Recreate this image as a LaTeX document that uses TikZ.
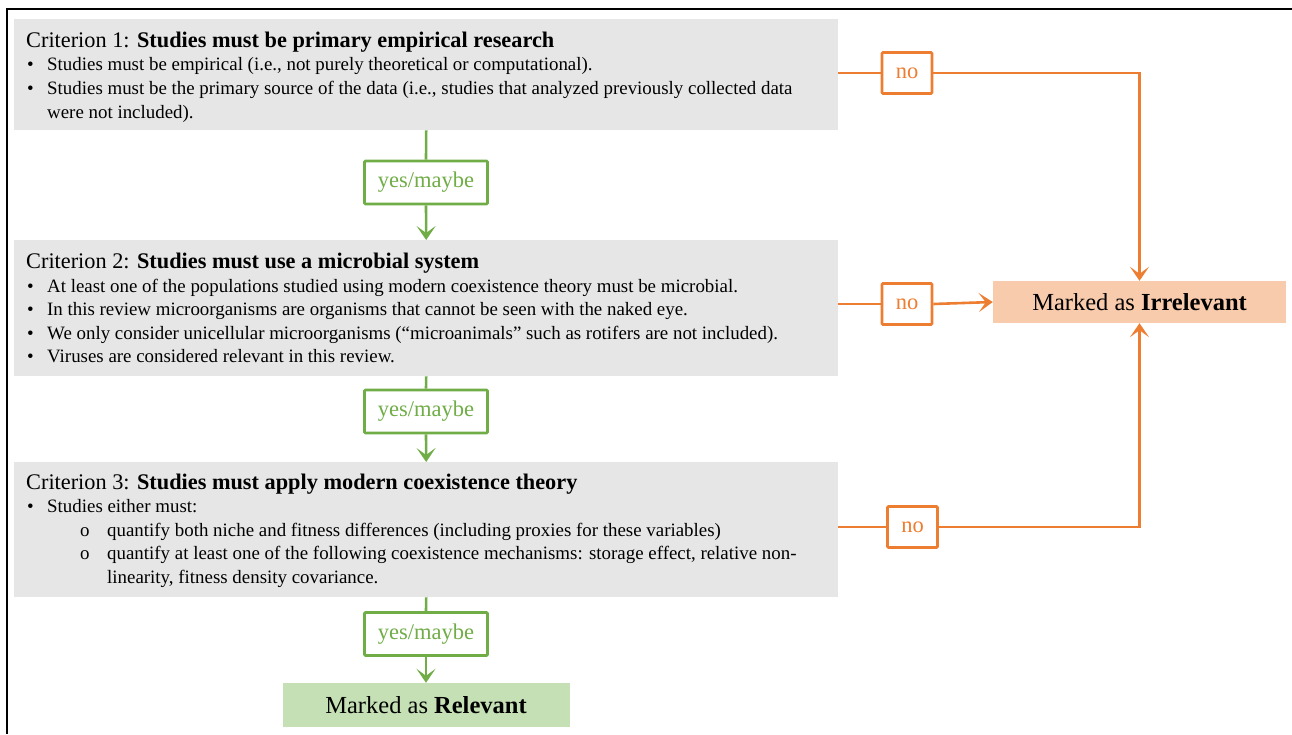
\documentclass[tikz,border=0pt]{standalone}
\usepackage{fontspec}
\setmainfont{Liberation Serif}
\usetikzlibrary{arrows.meta}
\definecolor{boxgray}{HTML}{E6E6E6}
\definecolor{orn}{HTML}{ED7D31}
\definecolor{grn}{HTML}{70AD47}
\definecolor{irrfill}{HTML}{F8CBAD}
\definecolor{relfill}{HTML}{C5E0B4}
\tikzset{
  critbox/.style={fill=boxgray, draw=none, inner sep=0, anchor=north west, minimum width=824pt},
  ttl/.style={anchor=base west, inner sep=0, font=\fontsize{22.3}{26}\selectfont},
  bodytxt/.style={anchor=base west, inner sep=0, font=\fontsize{18.9}{22}\selectfont},
  lab/.style={draw, line width=2.6pt, fill=white, rounded corners=1pt, inner sep=0, font=\fontsize{22.5}{26}\selectfont},
  yesbox/.style={lab, draw=grn, text=grn, minimum width=123pt, minimum height=43pt},
  nobox/.style={lab, draw=orn, text=orn, minimum width=50pt, minimum height=41pt},
  gline/.style={draw=grn, line width=2.6pt},
  garrow/.style={gline, -{Stealth[length=14pt,width=19pt,inset=7pt]}},
  oline/.style={draw=orn, line width=2.6pt},
  oarrow/.style={oline, -{Stealth[length=14pt,width=19pt,inset=7pt]}},
  endbox/.style={draw=none, inner sep=0, font=\fontsize{24.5}{28}\selectfont}
}
\begin{document}
\begin{tikzpicture}[x=1pt,y=-1pt]
\useasboundingbox (0,0) rectangle (1292,734);
% frame
\coordinate (fbl) at (7,734);
\coordinate (ftl) at (7,9);
\coordinate (ftr) at (1292,9);
\draw[line width=1.5pt] (fbl) -- (ftl) -- (ftr);

% criterion boxes
\node[critbox, minimum height=111pt] (c1) at (14,19) {};
\node[critbox, minimum height=136pt] (c2) at (14,240) {};
\node[critbox, minimum height=135pt] (c3) at (14,462) {};

% criterion 1 text
\node[ttl] (c1t) at (26,47) {Criterion 1: \textbf{Studies must be primary empirical research}};
\node[bodytxt] (c1b1) at (27,70.5) {•};
\node[bodytxt] (c1l1) at (47,70.5) {Studies must be empirical (i.e., not purely theoretical or computational).};
\node[bodytxt] (c1b2) at (27,94.5) {•};
\node[bodytxt] (c1l2) at (47,94.5) {Studies must be the primary source of the data (i.e., studies that analyzed previously collected data};
\node[bodytxt] (c1l3) at (47,118.5) {were not included).};

% criterion 2 text
\node[ttl] (c2t) at (26,268) {Criterion 2: \textbf{Studies must use a microbial system}};
\node[bodytxt] (c2b1) at (27,292) {•};
\node[bodytxt] (c2l1) at (47,292) {At least one of the populations studied using modern coexistence theory must be microbial.};
\node[bodytxt] (c2b2) at (27,315.5) {•};
\node[bodytxt] (c2l2) at (47,315.5) {In this review microorganisms are organisms that cannot be seen with the naked eye.};
\node[bodytxt] (c2b3) at (27,339) {•};
\node[bodytxt] (c2l3) at (47,339) {We only consider unicellular microorganisms (“microanimals” such as rotifers are not included).};
\node[bodytxt] (c2b4) at (27,362.5) {•};
\node[bodytxt] (c2l4) at (47,362.5) {Viruses are considered relevant in this review.};

% criterion 3 text
\node[ttl] (c3t) at (26,489) {Criterion 3: \textbf{Studies must apply modern coexistence theory}};
\node[bodytxt] (c3b1) at (27,512.5) {•};
\node[bodytxt] (c3l1) at (47,512.5) {Studies either must:};
\node[bodytxt] (c3o1) at (80,536) {o};
\node[bodytxt] (c3l2) at (107,536) {quantify both niche and fitness differences (including proxies for these variables)};
\node[bodytxt] (c3o2) at (80,559.5) {o};
\node[bodytxt] (c3l3) at (107,559.5) {quantify at least one of the following coexistence mechanisms: storage effect, relative non-};
\node[bodytxt] (c3l4) at (107,583) {linearity, fitness density covariance.};

% end boxes
\node[endbox, fill=irrfill, minimum width=293pt, minimum height=42pt] (irr) at (1139.5,302) {Marked as \textbf{Irrelevant}};
\node[endbox, fill=relfill, minimum width=287pt, minimum height=44pt] (rel) at (426,705) {Marked as \textbf{Relevant}};

% yes/maybe labels
\node[yesbox] (y1) at (426,182.5) {yes/maybe};
\node[yesbox] (y2) at (426,411.5) {yes/maybe};
\node[yesbox] (y3) at (426,634) {yes/maybe};

% no labels
\node[nobox] (n1) at (907,73) {no};
\node[nobox] (n2) at (907,304) {no};
\node[nobox] (n3) at (912.5,527) {no};

% green connectors
\draw[gline] (c1.south) -- (y1.north);
\draw[garrow] (y1.south) -- (c2.north);
\draw[gline] (c2.south) -- (y2.north);
\draw[garrow] (y2.south) -- (c3.north);
\draw[gline] (c3.south) -- (y3.north);
\draw[garrow] (y3.south) -- (rel.north);

% orange connectors
\draw[oline] (c1.east |- n1) -- (n1.west);
\draw[oarrow] (n1.east) -| (irr.north);
\draw[oline] (c2.east |- n2) -- (n2.west);
\draw[oarrow] (n2.east) -- (irr.west);
\draw[oline] (c3.east |- n3) -- (n3.west);
\draw[oarrow] (n3.east) -| (irr.south);
\end{tikzpicture}
\end{document}
